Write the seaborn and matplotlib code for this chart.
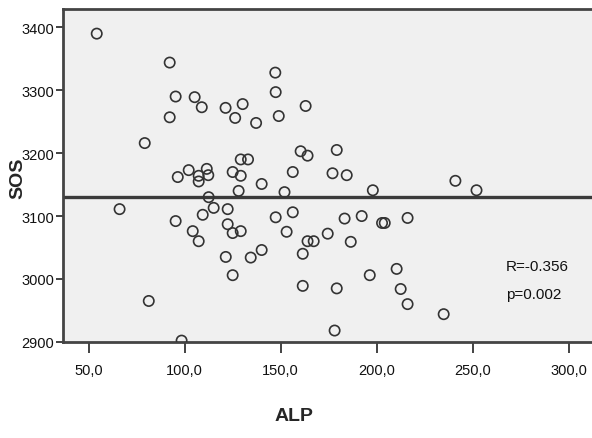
import matplotlib
matplotlib.use("Agg")
import matplotlib.pyplot as plt
import matplotlib.ticker as mticker
import seaborn as sns
import pandas as pd

# ALP vs SOS values
alp = [54.2, 92.2, 95.3, 92.2, 79.2, 105.2, 108.9, 121.3, 126.3, 130.2,
       137.2, 147.2, 147.4, 149.0, 163.0, 96.4, 102.1, 107.3, 107.3, 111.5,
       112.3, 125.0, 129.2, 133.0, 129.2, 128.1, 140.1, 152.0, 156.3, 160.4,
       164.0, 179.2, 177.0, 184.4, 198.0, 241.0, 252.0, 66.1, 95.3, 104.2,
       107.3, 109.4, 112.5, 115.1, 122.4, 122.4, 125.0, 129.2, 121.4, 125.0,
       134.4, 140.1, 147.4, 153.1, 156.3, 81.3, 98.4, 161.5, 164.0, 167.2,
       174.5, 183.3, 186.5, 192.2, 202.8, 204.2, 216.1, 161.5, 179.2, 196.4,
       210.4, 212.5, 216.1, 234.9, 178.1]
sos = [3390, 3344, 3290, 3257, 3216, 3289, 3273, 3272, 3256, 3278,
       3248, 3328, 3297, 3259, 3275, 3162, 3173, 3164, 3155, 3175,
       3165, 3170, 3190, 3190, 3164, 3140, 3151, 3138, 3170, 3203,
       3196, 3205, 3168, 3165, 3141, 3156, 3141, 3111, 3092, 3076,
       3060, 3102, 3130, 3113, 3111, 3087, 3073, 3076, 3035, 3006,
       3034, 3046, 3098, 3075, 3106, 2965, 2902, 3040, 3060, 3060,
       3072, 3096, 3059, 3100, 3089, 3089, 3097, 2989, 2985, 3006,
       3016, 2984, 2960, 2944, 2918]
mean_sos = 3131
x_ticks = [50, 100, 150, 200, 250, 300]
y_ticks = [2900, 3000, 3100, 3200, 3300, 3400]
stats_text = "R=-0.356\np=0.002"

df = pd.DataFrame({"ALP": alp, "SOS": sos})

sns.set_style("white")
plt.rcParams['font.family'] = ['Liberation Sans', 'DejaVu Sans']

fig = plt.figure(figsize=(5.92, 4.39), dpi=100)
ax = fig.add_axes([0.106, 0.219, 0.9, 0.758])
ax.set_facecolor('#f0f0f0')

sns.scatterplot(data=df, x="ALP", y="SOS", ax=ax, marker='o', s=55,
                facecolors='none', edgecolor='#333333', linewidth=1.2,
                clip_on=True, zorder=3)
ax.axhline(mean_sos, color='#3a3a3a', linewidth=2.4, zorder=2)

ax.set_xlim(36.5, 314)
ax.set_ylim(2900, 3429)
ax.set_xticks(x_ticks)
ax.set_yticks(y_ticks)
ax.xaxis.set_major_formatter(mticker.FuncFormatter(lambda v, p: f"{v:.1f}".replace('.', ',')))
ax.yaxis.set_major_formatter(mticker.FuncFormatter(lambda v, p: f"{int(v)}"))
ax.tick_params(axis='x', direction='out', length=8, width=1.2, color='#222222',
               labelsize=10.5, pad=7, bottom=True, labelcolor='#111111')
ax.tick_params(axis='y', direction='out', length=5, width=1.2, color='#222222',
               labelsize=10.5, pad=1, left=True, labelcolor='#111111')

for sp in ax.spines.values():
    sp.set_color('#444444')
    sp.set_linewidth(2)

ax.set_xlabel("ALP", fontsize=14, fontweight='bold')
ax.xaxis.set_label_coords(0.433, -0.195)
ax.set_ylabel("SOS", fontsize=14, fontweight='bold')
ax.yaxis.set_label_coords(-0.068, 0.495)

ax.text(0.832, 0.186, stats_text, transform=ax.transAxes, fontsize=11,
        ha='left', va='center', linespacing=2.3, color='#111111')

fig.savefig("out.png", dpi=100)
